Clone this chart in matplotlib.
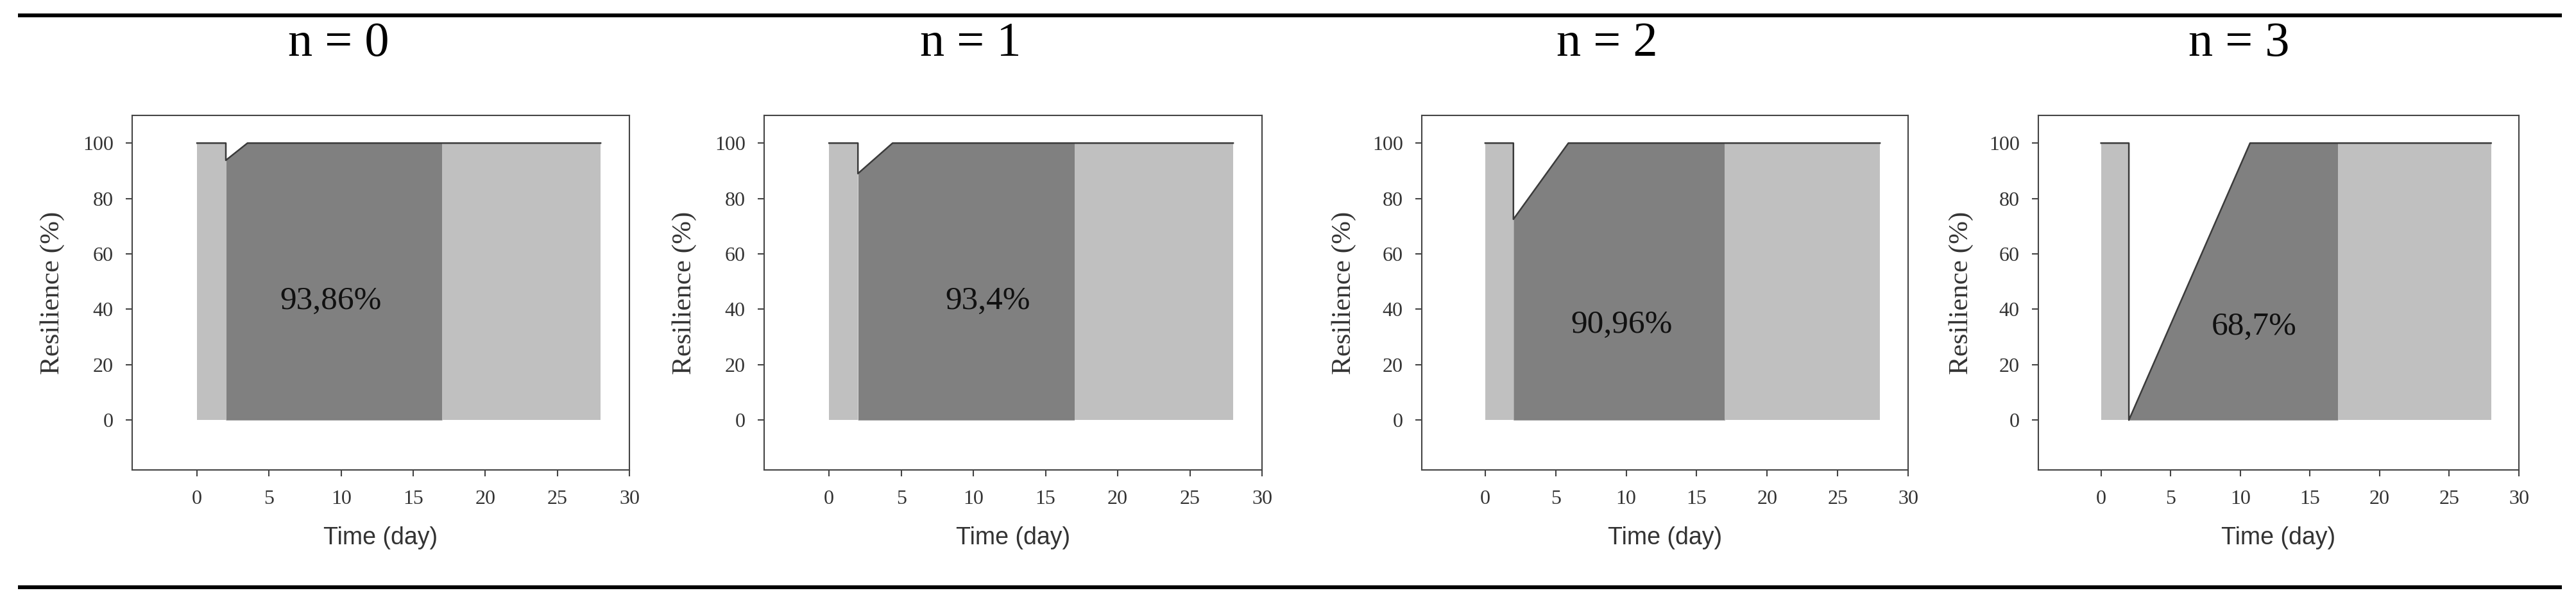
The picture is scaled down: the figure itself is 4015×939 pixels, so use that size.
import numpy as np
import matplotlib
matplotlib.use('Agg')
import matplotlib.pyplot as plt
from matplotlib.lines import Line2D

# Waarden
titles = ['n = 0', 'n = 1', 'n = 2', 'n = 3']
t_drop = 2.0          # moment van verstoring (dag)
t_dark_end = 17.0     # einde donkergrijze zone
t_end = 28.0          # einde simulatie
r_min = [93.8, 89.0, 72.5, 0.0]      # laagste resilience na verstoring (%)
t_rec = [3.5, 4.4, 5.9, 10.7]        # dag waarop weer 100% bereikt wordt
area_labels = ['93,86%', '93,4%', '90,96%', '68,7%']
label_x = [9.3, 11.0, 9.7, 11.0]
label_y = [43, 43, 34.4, 33.7]
xticks = [0, 5, 10, 15, 20, 25, 30]
yticks = [0, 20, 40, 60, 80, 100]

W, H = 4015, 939
fig = plt.figure(figsize=(W / 100, H / 100), dpi=100)

# assen-posities in pixels (links, rechts)
ax_px = [(206, 981), (1191, 1967), (2216, 2974), (3177, 3926)]
title_px = [528, 1513, 2505, 3490]
top_px, bot_px = 180, 733

light = '#c0c0c0'
dark = '#808080'
axcol = '#444444'
serif = 'Liberation Serif'

for i in range(4):
    l, r = ax_px[i]
    ax = fig.add_axes([l / W, 1 - bot_px / H, (r - l) / W, (bot_px - top_px) / H])

    # resilience-curve
    t = [0, t_drop, t_drop, t_rec[i], t_end]
    res = [100, 100, r_min[i], 100, 100]

    ax.fill_between([0, t_drop], 0, [100, 100], color=light, lw=0)
    ax.fill_between([t_drop, t_rec[i], t_dark_end], 0, [r_min[i], 100, 100], color=dark, lw=0)
    ax.fill_between([t_dark_end, t_end], 0, [100, 100], color=light, lw=0)
    ax.plot(t, res, color='#3a3a3a', lw=1.8)

    ax.text(label_x[i], label_y[i], area_labels[i], ha='center', va='center',
            fontsize=37, family=serif, color='#111111')

    ax.set_xlim(-4.5, 30)
    ax.set_ylim(-18, 110)
    ax.set_xticks(xticks)
    ax.set_yticks(yticks)
    for sp in ax.spines.values():
        sp.set_color(axcol)
        sp.set_linewidth(1.5)
    ax.tick_params(direction='out', length=7, width=1.5, color=axcol,
                   labelsize=23, labelcolor='#333333')
    ax.tick_params(axis='x', pad=15)
    ax.tick_params(axis='y', pad=14)
    for lab in ax.get_xticklabels() + ax.get_yticklabels():
        lab.set_family(serif)

    ax.set_xlabel('Time (day)', fontsize=27, family='Liberation Sans', color='#333333')
    ax.xaxis.set_label_coords(0.5, -0.16)
    ax.set_ylabel('Resilience (%)', fontsize=31, family=serif, color='#333333', va='center')
    ax.yaxis.set_label_coords(-0.16, 0.5)

    fig.text(title_px[i] / W, 1 - 87 / H, titles[i], ha='center', va='baseline',
             fontsize=55, family=serif, color='black')

# horizontale lijnen boven en onder (tabelrand)
for y in (24, 916):
    fig.add_artist(Line2D([31 / W, 3990 / W], [1 - y / H, 1 - y / H],
                          color='black', lw=4.3, transform=fig.transFigure))

plt.savefig('out.png', dpi=100)
